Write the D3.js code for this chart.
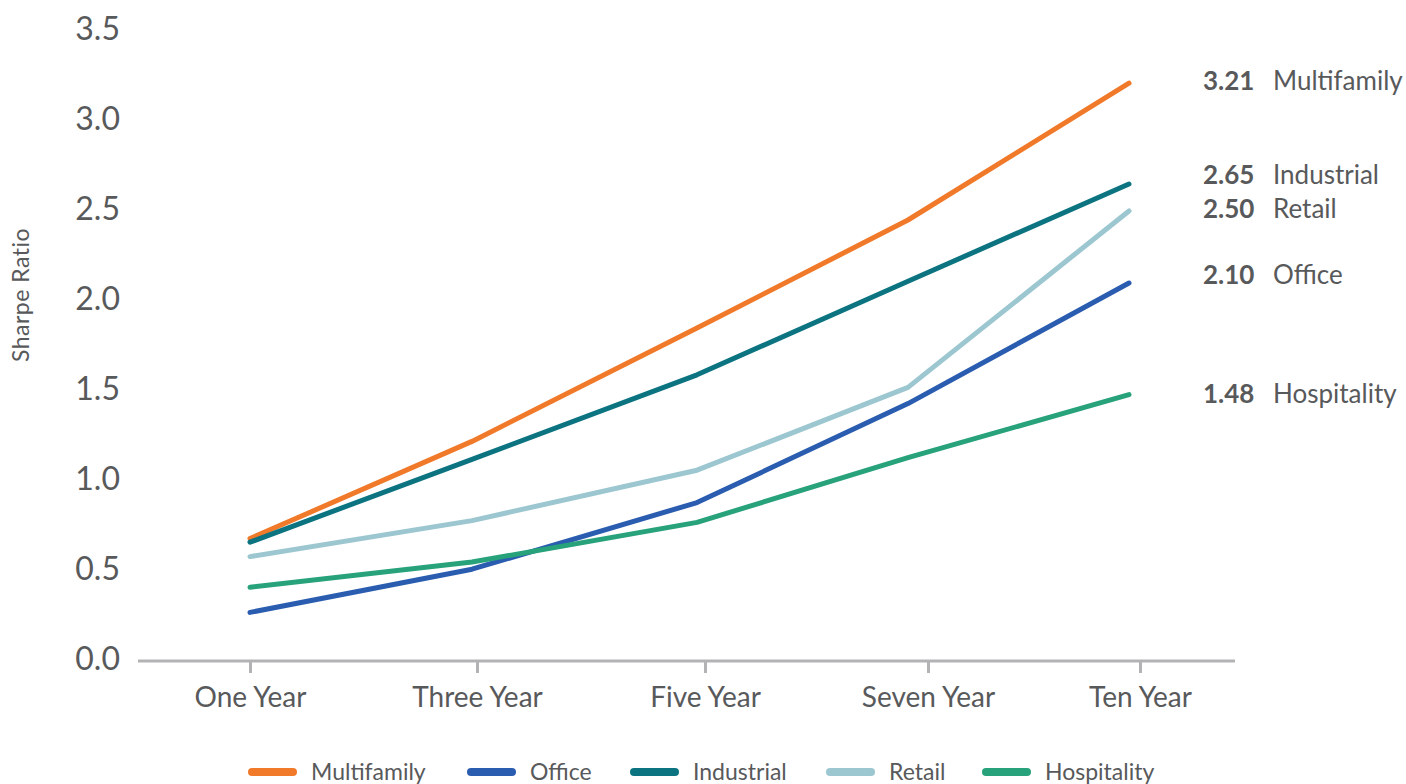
<!doctype html>
<html lang="en">
<head>
<meta charset="UTF-8">
<title>Sharpe Ratio</title>
<script src="https://d3js.org/d3.v7.min.js"></script>
<style>
  body { margin:0; background:#fff; }
  text { font-family: Lato, "Noto Sans", sans-serif; fill:#58595b; }
</style>
</head>
<body>
<div id="chart"></div>
<script>
// data
var periods = ["One Year","Three Year","Five Year","Seven Year","Ten Year"];
var seriesNames = ["Multifamily","Office","Industrial","Retail","Hospitality"];
var multifamily = [0.68, 1.22, 1.85, 2.45, 3.21];
var office      = [0.27, 0.51, 0.88, 1.43, 2.10];
var industrial  = [0.66, 1.12, 1.59, 2.11, 2.65];
var retail      = [0.58, 0.78, 1.06, 1.52, 2.50];
var hospitality = [0.41, 0.55, 0.77, 1.13, 1.48];
var yTicks = [0,0.5,1,1.5,2,2.5,3,3.5];
var colors = ["#f07a2a","#2a5db0","#0b7480","#9cc7d0","#27a27a"];

var series = [multifamily, office, industrial, retail, hospitality];

var width = 1406, height = 784;
var svg = d3.select("#chart").append("svg")
	.attr("width", width)
	.attr("height", height);

var yScale = d3.scaleLinear().domain([0,3.5]).range([661,31]);
// axis ticks and line points sit on slightly different grids in the original
var xAxisScale = d3.scaleOrdinal().domain(periods).range([250,477,705,928,1140]);
var xScale = d3.scaleOrdinal().domain(periods).range([250,472,697,908,1129]);

// x axis
var xAxis = d3.axisBottom(xAxisScale).tickSize(12).tickSizeOuter(0).tickPadding(14);
var gx = svg.append("g").attr("transform","translate(0,661)").call(xAxis);
gx.select(".domain").remove();
gx.selectAll(".tick line").attr("stroke","#b3b3b6").attr("stroke-width",3);
gx.selectAll("text").style("font-size","28px").attr("fill","#58595b");
gx.insert("line",":first-child")
	.attr("x1",138).attr("x2",1235)
	.attr("stroke","#b3b3b6").attr("stroke-width",3);

// y axis (labels only)
var yAxis = d3.axisLeft(yScale).tickValues(yTicks).tickFormat(d3.format(".1f")).tickSize(0).tickPadding(0);
var gy = svg.append("g").attr("transform","translate(120,-2)").call(yAxis);
gy.select(".domain").remove();
gy.selectAll("text").style("font-size","32px").attr("fill","#58595b");

svg.append("text")
	.attr("transform","translate(29,295) rotate(-90)")
	.attr("text-anchor","middle")
	.style("font-size","23px")
	.style("letter-spacing","0.5px")
	.text("Sharpe Ratio");

// lines
var line = d3.line()
	.x(function(d,i){ return xScale(periods[i]); })
	.y(function(d){ return yScale(d); });

series.forEach(function(s,i){
	svg.append("path")
		.datum(s)
		.attr("fill","none")
		.attr("stroke",colors[i])
		.attr("stroke-width",5)
		.attr("stroke-linecap","round")
		.attr("stroke-linejoin","round")
		.attr("d",line);
});

// end labels
var labelY = {Multifamily:81, Industrial:175, Retail:209, Office:275, Hospitality:394};
series.forEach(function(s,i){
	var name = seriesNames[i];
	var t = svg.append("text")
		.attr("x",1203)
		.attr("y",labelY[name])
		.attr("dy","0.35em")
		.style("font-size","26px");
	t.append("tspan").style("font-weight","bold").text(d3.format(".2f")(s[s.length-1]));
	t.append("tspan").attr("x",1273).text(name);
});

// legend
var legendX = [248,467,630,826,982];
var legend = svg.append("g");
seriesNames.forEach(function(name,i){
	legend.append("line")
		.attr("x1",legendX[i]+4).attr("x2",legendX[i]+45)
		.attr("y1",772).attr("y2",772)
		.attr("stroke",colors[i]).attr("stroke-width",8)
		.attr("stroke-linecap","round");
	legend.append("text")
		.attr("x",legendX[i]+63)
		.attr("y",772)
		.attr("dy","0.35em")
		.style("font-size","23px")
		.text(name);
});
</script>
</body>
</html>
